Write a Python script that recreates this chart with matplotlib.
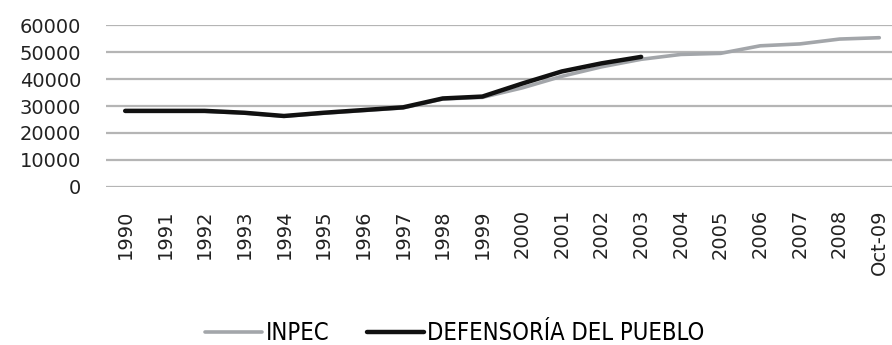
import numpy as np
import matplotlib.pyplot as plt

years = ["1990", "1991", "1992", "1993", "1994", "1995", "1996", "1997", "1998", "1999",
         "2000", "2001", "2002", "2003", "2004", "2005", "2006", "2007", "2008", "Oct-09"]

inpec = [28000, 28000, 28000, 27400, 26200, 27300, 28300, 29300, 32600, 33200,
         36700, 41000, 44500, 47300, 49100, 49500, 52300, 53000, 54800, 55300]
defensoria = [28200, 28200, 28200, 27500, 26300, 27500, 28500, 29500, 32800, 33500,
              38300, 42800, 45800, 48200]

x = np.arange(len(years))

fig = plt.figure(figsize=(8.92, 3.45), dpi=100)
ax = fig.add_axes([0.119, 0.458, 0.881, 0.4695])

ax.plot(x, inpec, color="#a3a6aa", lw=2.6, label="INPEC", solid_capstyle="round")
ax.plot(x[:len(defensoria)], defensoria, color="#111111", lw=3.2,
        label="DEFENSORÍA DEL PUEBLO", solid_capstyle="round")

ax.set_ylim(0, 60000)
ax.set_yticks(np.arange(0, 60001, 10000))
ax.set_xlim(-0.48, 19.32)
ax.set_xticks(x)
ax.set_xticklabels(years, rotation=90, fontsize=14, color="#222222")
ax.tick_params(axis="y", labelsize=14, labelcolor="#222222", length=0, pad=18)
ax.tick_params(axis="x", length=0, pad=16)
ax.grid(axis="y", color="#b5b5b5", lw=1.6)
ax.set_axisbelow(True)
for s in ax.spines.values():
    s.set_visible(False)

fig.legend(loc="center", bbox_to_anchor=(0.51, 0.035), ncol=2, frameon=False,
           prop={"family": "DejaVu Sans", "stretch": "condensed", "size": 17},
           handlelength=2.4, handletextpad=0.15, columnspacing=1.6)

fig.savefig("out.png", dpi=100)
